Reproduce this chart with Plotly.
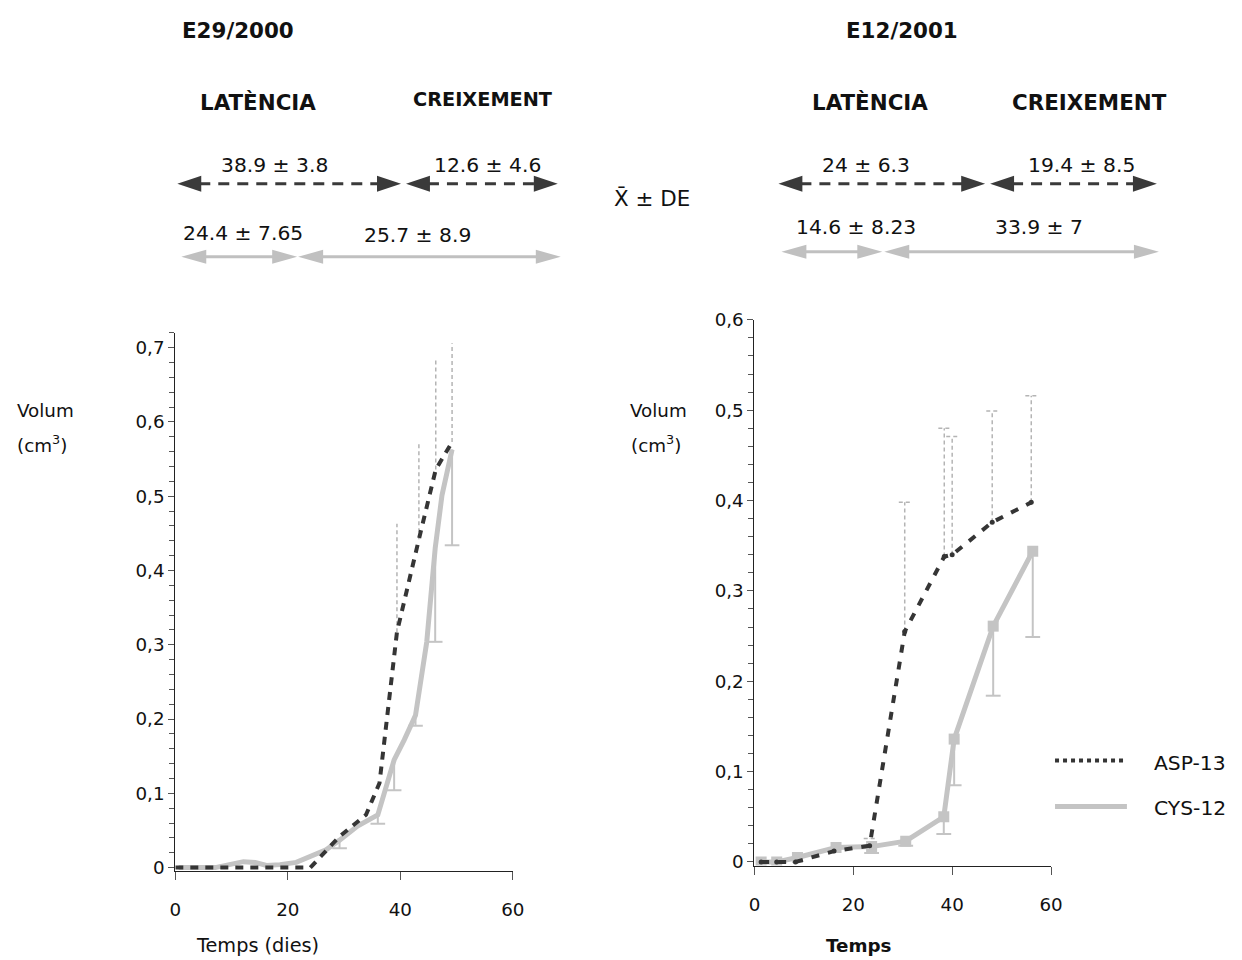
import plotly.graph_objects as go

# ---------------- data ----------------
# Left panel: E29/2000
left_asp_x = [0, 11, 17, 22, 24.0, 29.2, 33.9, 36.3, 39.4, 43.3, 46.3, 49.2]
left_asp_y = [0, 0, 0, 0, 0, 0.042, 0.071, 0.114, 0.317, 0.442, 0.536, 0.573]
left_asp_err = [0, 0, 0, 0, 0, 0, 0, 0, 0.146, 0.130, 0.147, 0.133]

left_cys_x = [0.6, 7.1, 12.1, 14.2, 16.2, 18.6, 21.5, 23.9, 26.8, 29.2, 32.4, 36.0,
              37.5, 38.9, 40.7, 42.7, 44.7, 46.2, 47.4, 49.2]
left_cys_y = [0, 0, 0.008, 0.007, 0.003, 0.004, 0.007, 0.015, 0.024, 0.037, 0.056, 0.071,
              0.109, 0.145, 0.172, 0.205, 0.304, 0.43, 0.501, 0.563]
left_cys_err = [0, 0, 0, 0, 0, 0, 0, 0, 0, 0.011, 0, 0.012,
                0, 0.041, 0, 0.014, 0, 0.126, 0, 0.129]

# Right panel: E12/2001
right_asp_x = [1.35, 4.5, 8.3, 16.1, 23.3, 30.4, 38.4, 40.0, 48.1, 56.0]
right_asp_y = [0, 0, 0, 0.012, 0.018, 0.255, 0.338, 0.340, 0.376, 0.398]
right_asp_err = [0, 0, 0, 0, 0.008, 0.143, 0.142, 0.131, 0.123, 0.118]

right_cys_x = [1.35, 4.5, 8.7, 16.5, 23.7, 30.6, 38.3, 40.4, 48.3, 56.3]
right_cys_y = [0, 0, 0.005, 0.016, 0.017, 0.023, 0.050, 0.136, 0.261, 0.344]
right_cys_err = [0, 0, 0, 0, 0.007, 0.005, 0.019, 0.051, 0.077, 0.095]

x_ticks = [0, 20, 40, 60]
x_ticklabels = ["0", "20", "40", "60"]
left_y_ticks = [0, 0.1, 0.2, 0.3, 0.4, 0.5, 0.6, 0.7]
left_y_ticklabels = ["0", "0,1", "0,2", "0,3", "0,4", "0,5", "0,6", "0,7"]
right_y_ticks = [0, 0.1, 0.2, 0.3, 0.4, 0.5, 0.6]
right_y_ticklabels = ["0", "0,1", "0,2", "0,3", "0,4", "0,5", "0,6"]

# summary texts
left_titles = ["E29/2000", "LATÈNCIA", "CREIXEMENT"]
right_titles = ["E12/2001", "LATÈNCIA", "CREIXEMENT"]
left_asp_stats = ["38.9 ± 3.8", "12.6 ± 4.6"]
left_cys_stats = ["24.4 ± 7.65", "25.7 ± 8.9"]
right_asp_stats = ["24 ± 6.3", "19.4 ± 8.5"]
right_cys_stats = ["14.6 ± 8.23", "33.9 ± 7"]
series_names = ["ASP-13", "CYS-12"]

# ---------------- styling / geometry ----------------
OFF = 8                      # default body margin of the html page
W, H = 1246, 962             # figure size (covers the whole photographed area)
# observed mapping page -> photographed picture (used to place layout targets)
AX, SX = 5.55, 0.987
AY, SY = 10.7, 0.980
FS = 1.0 / ((SX + SY) / 2)   # font compensation

DARK = "#353535"
GRAY = "#c4c4c4"
ERRGRAY = "#b4b4b4"
FONT = "DejaVu Sans"


def px(x):
    page = (x - AX) / SX
    return (page - OFF) / W


def py(y):
    page = (y - AY) / SY
    return 1 - (page - OFF) / H


def fs(s):
    return round(s * FS, 1)


def err_segments(xs, ys, es, sign=1, cap=0.0):
    sx, sy = [], []
    for x, y, e in zip(xs, ys, es):
        if e > 0:
            end = y + sign * e
            sx += [x, x, None]
            sy += [y, end, None]
            if cap > 0:
                sx += [x - cap, x + cap, None]
                sy += [end, end, None]
    return sx, sy


fig = go.Figure()

# ---- left panel ----
ex, ey = err_segments(left_asp_x, left_asp_y, left_asp_err)
fig.add_trace(go.Scatter(x=ex, y=ey, mode="lines", xaxis="x", yaxis="y",
                         line=dict(color=ERRGRAY, width=1.5, dash="4px,3px"),
                         showlegend=False, hoverinfo="skip"))
ex, ey = err_segments(left_cys_x, left_cys_y, left_cys_err, sign=-1, cap=1.3)
fig.add_trace(go.Scatter(x=ex, y=ey, mode="lines", xaxis="x", yaxis="y",
                         line=dict(color=GRAY, width=2),
                         showlegend=False, hoverinfo="skip"))
fig.add_trace(go.Scatter(x=left_cys_x, y=left_cys_y, mode="lines", xaxis="x", yaxis="y",
                         line=dict(color=GRAY, width=5),
                         name=series_names[1], showlegend=False))
fig.add_trace(go.Scatter(x=left_asp_x, y=left_asp_y, mode="lines", xaxis="x", yaxis="y",
                         line=dict(color=DARK, width=4, dash="8px,7px"),
                         name=series_names[0], showlegend=False))

# ---- right panel ----
ex, ey = err_segments(right_asp_x, right_asp_y, right_asp_err, cap=1.2)
fig.add_trace(go.Scatter(x=ex, y=ey, mode="lines", xaxis="x2", yaxis="y2",
                         line=dict(color=ERRGRAY, width=1.5, dash="4px,3px"),
                         showlegend=False, hoverinfo="skip"))
ex, ey = err_segments(right_cys_x, right_cys_y, right_cys_err, sign=-1, cap=1.5)
fig.add_trace(go.Scatter(x=ex, y=ey, mode="lines", xaxis="x2", yaxis="y2",
                         line=dict(color=GRAY, width=2),
                         showlegend=False, hoverinfo="skip"))
fig.add_trace(go.Scatter(x=right_cys_x, y=right_cys_y, mode="lines+markers", xaxis="x2", yaxis="y2",
                         line=dict(color=GRAY, width=5),
                         marker=dict(symbol="square", size=11, color=GRAY),
                         name=series_names[1], showlegend=False))
fig.add_trace(go.Scatter(x=right_asp_x, y=right_asp_y, mode="lines+markers", xaxis="x2", yaxis="y2",
                         line=dict(color=DARK, width=4, dash="8px,9px"),
                         marker=dict(symbol="circle", size=5, color=DARK),
                         name=series_names[0], showlegend=False))

axis_common = dict(showgrid=False, zeroline=False, showline=True, linecolor="#222",
                   linewidth=1.2, ticks="outside", ticklen=8, tickcolor="#555",
                   tickfont=dict(family=FONT, size=fs(18), color="#111"))

fig.update_layout(
    width=W, height=H, margin=dict(l=0, r=0, t=0, b=0),
    paper_bgcolor="white", plot_bgcolor="white", showlegend=False,
    xaxis=dict(domain=[px(175), px(513)], range=[0, 60], anchor="y",
               tickvals=x_ticks, ticktext=x_ticklabels, ticklabelstandoff=14, **axis_common),
    yaxis=dict(domain=[py(869), py(332)], range=[-0.004, 0.72], anchor="x",
               tickvals=left_y_ticks, ticktext=left_y_ticklabels,
               minor=dict(dtick=0.02, tick0=0, ticks="outside", ticklen=5, tickcolor="#555"),
               **{**axis_common, "ticklen": 6}),
    xaxis2=dict(domain=[px(755), px(1052)], range=[0, 60], anchor="y2",
                tickvals=x_ticks, ticktext=x_ticklabels, ticklabelstandoff=14, **axis_common),
    yaxis2=dict(domain=[py(864), py(319)], range=[-0.004, 0.6], anchor="x2",
                tickvals=right_y_ticks, ticktext=right_y_ticklabels,
                minor=dict(dtick=0.02, tick0=0, ticks="outside", ticklen=5, tickcolor="#555"),
                **{**axis_common, "ticklen": 6}),
)

annotations = []
shapes = []


def text(x, y, s, size=17, bold=False, color="#111"):
    annotations.append(dict(x=px(x), y=py(y), xref="paper", yref="paper", text=s,
                            showarrow=False, xanchor="center", yanchor="middle",
                            font=dict(family=FONT, size=fs(size), color=color,
                                      weight="bold" if bold else "normal")))


def arrow(x0, x1, y, color, dash, lw, hl, hh):
    shapes.append(dict(type="line", xref="paper", yref="paper",
                       x0=px(x0 + hl - 2), x1=px(x1 - hl + 2), y0=py(y), y1=py(y),
                       line=dict(color=color, width=lw, dash=dash)))
    for tip, base in ((x0, x0 + hl), (x1, x1 - hl)):
        path = "M {} {} L {} {} L {} {} Z".format(px(tip), py(y), px(base), py(y - hh / 2),
                                                  px(base), py(y + hh / 2))
        shapes.append(dict(type="path", xref="paper", yref="paper", path=path,
                           fillcolor=color, line=dict(color=color, width=0)))


# titles
text(238, 30, left_titles[0], size=21, bold=True)
text(258, 102, left_titles[1], size=21, bold=True)
text(483, 99, left_titles[2], size=19, bold=True)
text(903, 30, right_titles[0], size=21, bold=True)
text(871, 102, right_titles[1], size=21, bold=True)
text(1091, 102, right_titles[2], size=21, bold=True)

# left stats
text(274, 164, left_asp_stats[0], size=20)
text(488, 164, left_asp_stats[1], size=20)
text(243, 232, left_cys_stats[0], size=20)
text(418, 234, left_cys_stats[1], size=20)
arrow(177, 401, 183, "#3a3a3a", "11px,8px", 3, 24, 16)
arrow(406, 558, 183, "#3a3a3a", "11px,8px", 3, 24, 16)
arrow(181, 297, 256, "#c0c0c0", "solid", 3, 25, 14)
arrow(298, 561, 256, "#c0c0c0", "solid", 3, 25, 14)

# right stats
text(867, 164, right_asp_stats[0], size=20)
text(1083, 164, right_asp_stats[1], size=20)
text(857, 226, right_cys_stats[0], size=20)
text(1040, 226, right_cys_stats[1], size=20)
arrow(779, 986, 183, "#3a3a3a", "11px,8px", 3, 24, 16)
arrow(991, 1158, 183, "#3a3a3a", "11px,8px", 3, 24, 16)
arrow(782, 883, 251, "#c0c0c0", "solid", 3, 25, 14)
arrow(885, 1160, 251, "#c0c0c0", "solid", 3, 25, 14)

# mean ± SD label
text(652, 198, "X\u0304 ± DE", size=21)

# axis titles
text(45, 410, "Volum", size=18)
text(41, 443, "(cm<sup>3</sup>)", size=18)
text(659, 410, "Volum", size=18)
text(656, 443, "(cm<sup>3</sup>)", size=18)
text(257, 944, "Temps (dies)", size=19)
text(860, 944, "Temps", size=18, bold=True)

# legend
shapes.append(dict(type="line", xref="paper", yref="paper", x0=px(1056), x1=px(1128),
                   y0=py(759), y1=py(759), line=dict(color=DARK, width=4, dash="4px,4px")))
shapes.append(dict(type="line", xref="paper", yref="paper", x0=px(1056), x1=px(1128),
                   y0=py(805), y1=py(805), line=dict(color=GRAY, width=5)))
text(1191, 762, series_names[0], size=20)
text(1191, 807, series_names[1], size=20)

fig.update_layout(annotations=annotations, shapes=shapes)
fig.write_html("out.html", config={"displayModeBar": False})
